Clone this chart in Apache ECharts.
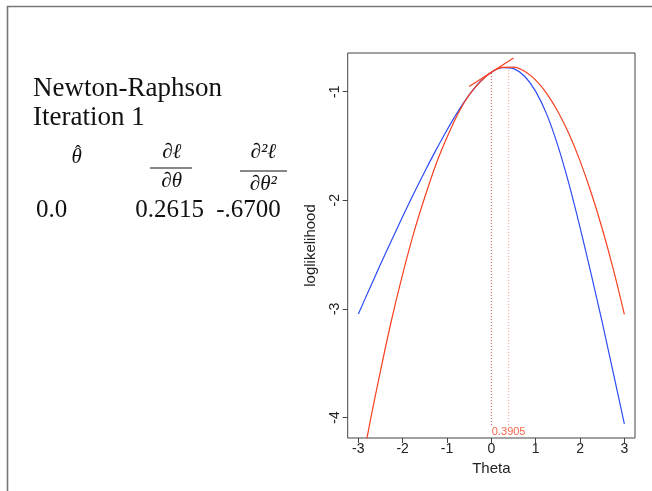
<!DOCTYPE html>
<html>
<head>
<meta charset="utf-8">
<script src="https://cdn.jsdelivr.net/npm/echarts@6/dist/echarts.min.js"></script>
<style>
html,body{margin:0;padding:0;background:#fff;}
#chart{width:652px;height:491px;}
</style>
</head>
<body>
<div id="chart"></div>
<script>
// ---- data ----
const thetaGrid = [-3, -2.75, -2.5, -2.25, -2, -1.75, -1.5, -1.25, -1, -0.75, -0.5, -0.25, 0,
                   0.25, 0.5, 0.75, 1, 1.25, 1.5, 1.75, 2, 2.25, 2.5, 2.75, 3];
const logLik = [-3.048, -2.817, -2.590, -2.368, -2.150, -1.938, -1.734, -1.538, -1.352, -1.181, -1.030, -0.906, -0.820,
                -0.778, -0.788, -0.858, -0.997, -1.209, -1.497, -1.849, -2.249, -2.678, -3.122, -3.590, -4.058];
const quadApprox = [-4.62, -4.07, -3.57, -3.10, -2.68, -2.30, -1.97, -1.67, -1.42, -1.20, -1.03, -0.91, -0.82,
                    -0.776, -0.773, -0.812, -0.894, -1.017, -1.182, -1.388, -1.637, -1.928, -2.26, -2.634, -3.05];
const tangentTheta = [-0.5, 0.5];
const tangentValue = [-0.951, -0.689];
const startTheta = 0.0;
const startValue = -0.82;
const newtonTheta = 0.3905;
const newtonValue = -0.769;
const dropFloor = -4.07;
const newtonLabel = ['0.3905'];
const newtonLabelY = [-4.133];
const xTicks = [-3, -2, -1, 0, 1, 2, 3];
const yTicks = [-4, -3, -2, -1];
const xRange = [-3.24, 3.24];
const yRange = [-4.189, -0.6436];
const derivLabels = ['0.0', '0.2615', '-.6700'];

// ---- chart ----
const chart = echarts.init(document.getElementById('chart'), null, {renderer: 'canvas'});
const RED = '#f7401f', BLUE = '#2c4cf7';
const serif = '"Liberation Serif", "Times New Roman", serif';
const sans = '"Liberation Sans", Arial, Helvetica, sans-serif';

const pairs = (xs, ys) => xs.map((x, i) => [x, ys[i]]);

const option = {
  animation: false,
  backgroundColor: '#fff',
  grid: {left: 347.7, top: 53, width: 287.3, height: 385, show: true,
         borderColor: '#444', borderWidth: 1, backgroundColor: 'transparent'},
  xAxis: {
    type: 'value', min: xRange[0], max: xRange[1],
    name: 'Theta', nameLocation: 'middle', nameGap: 21,
    nameTextStyle: {fontFamily: sans, fontSize: 15, color: '#222'},
    axisLine: {show: false, onZero: false},
    splitLine: {show: false},
    axisTick: {show: true, inside: false, length: 5, customValues: xTicks, lineStyle: {color: '#444'}},
    axisLabel: {customValues: xTicks, fontFamily: sans, fontSize: 14, color: '#222', margin: 4}
  },
  yAxis: {
    type: 'value', min: yRange[0], max: yRange[1],
    name: 'loglikelihood', nameLocation: 'middle', nameGap: 29, nameRotate: 90,
    nameTextStyle: {fontFamily: sans, fontSize: 15, color: '#222'},
    axisLine: {show: false, onZero: false},
    splitLine: {show: false},
    axisTick: {show: true, inside: false, length: 5, customValues: yTicks, lineStyle: {color: '#444'}},
    axisLabel: {customValues: yTicks, rotate: 90, fontFamily: sans, fontSize: 14, color: '#222', margin: 6}
  },
  series: [
    {type: 'line', name: 'loglik', data: pairs(thetaGrid, logLik), smooth: 0.3, showSymbol: false,
     lineStyle: {color: BLUE, width: 1.2}, clip: true, z: 2},
    {type: 'line', name: 'quad', data: pairs(thetaGrid, quadApprox), smooth: 0.3, showSymbol: false,
     lineStyle: {color: RED, width: 1.2}, clip: true, z: 3},
    {type: 'line', name: 'tangent', data: pairs(tangentTheta, tangentValue), showSymbol: false,
     lineStyle: {color: RED, width: 1.2}, clip: false, z: 4},
    {type: 'line', name: 'start', data: [[startTheta, dropFloor], [startTheta, startValue]], showSymbol: false,
     lineStyle: {color: '#c8504a', width: 1, type: [1, 2]}, z: 1},
    {type: 'line', name: 'newton', data: [[newtonTheta, dropFloor], [newtonTheta, newtonValue]], showSymbol: false,
     lineStyle: {color: '#f79a90', width: 1, type: [1, 2]}, z: 1},
    {type: 'scatter', name: 'label', data: [[newtonTheta, newtonLabelY[0]]], symbolSize: 0,
     label: {show: true, position: 'inside', formatter: () => newtonLabel[0],
             fontFamily: sans, fontSize: 11, color: RED}, z: 5}
  ],
  graphic: [
    {type: 'rect', shape: {x: 7.5, y: 6.5, width: 800, height: 600}, style: {fill: 'none', stroke: '#777', lineWidth: 1.6}, silent: true},
    {type: 'text', x: 33, y: 89, style: {text: 'Newton-Raphson', font: '27px ' + serif, fill: '#111', verticalAlign: 'middle', align: 'left'}},
    {type: 'text', x: 33, y: 118, style: {text: 'Iteration 1', font: '27px ' + serif, fill: '#111', verticalAlign: 'middle', align: 'left'}},
    {type: 'text', x: 76.7, y: 157, style: {text: 'θ', font: 'italic 21px ' + serif, fill: '#111', verticalAlign: 'middle', align: 'center'}},
    {type: 'text', x: 78, y: 153, style: {text: 'ˆ', font: '18px ' + serif, fill: '#111', verticalAlign: 'middle', align: 'center'}},
    {type: 'text', x: 171.7, y: 152, style: {text: '∂ℓ', font: 'italic 21px ' + serif, fill: '#111', verticalAlign: 'middle', align: 'center'}},
    {type: 'line', shape: {x1: 150, y1: 168, x2: 192, y2: 168}, style: {stroke: '#111', lineWidth: 1}},
    {type: 'text', x: 171.7, y: 181, style: {text: '∂θ', font: 'italic 21px ' + serif, fill: '#111', verticalAlign: 'middle', align: 'center'}},
    {type: 'text', x: 263.3, y: 152, style: {text: '∂²ℓ', font: 'italic 21px ' + serif, fill: '#111', verticalAlign: 'middle', align: 'center'}},
    {type: 'line', shape: {x1: 240, y1: 171, x2: 287, y2: 171}, style: {stroke: '#111', lineWidth: 1}},
    {type: 'text', x: 263.3, y: 184, style: {text: '∂θ²', font: 'italic 21px ' + serif, fill: '#111', verticalAlign: 'middle', align: 'center'}},
    {type: 'text', x: 51.5, y: 210, style: {text: derivLabels[0], font: '25px ' + serif, fill: '#111', verticalAlign: 'middle', align: 'center'}},
    {type: 'text', x: 169.5, y: 210, style: {text: derivLabels[1], font: '25px ' + serif, fill: '#111', verticalAlign: 'middle', align: 'center'}},
    {type: 'text', x: 248.5, y: 210, style: {text: derivLabels[2], font: '25px ' + serif, fill: '#111', verticalAlign: 'middle', align: 'center'}}
  ]
};
chart.setOption(option);
</script>
</body>
</html>
